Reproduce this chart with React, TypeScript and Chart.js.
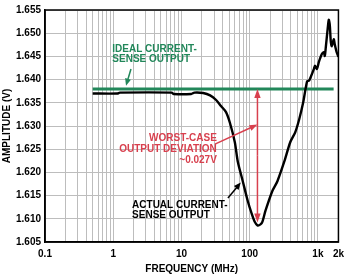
import React, { useEffect, useRef } from "react";
import { Chart, registerables } from "chart.js";

Chart.register(...registerables);

// ---- data ----
const freqMHz = [
  0.5, 1.15, 1.25, 7.2, 7.7, 13.9, 15.5, 20.8, 26.3, 32.2, 38, 45, 51.3, 60.6,
  67, 79.2, 93.5, 107, 118, 130, 144, 154, 171, 215, 255, 321, 393, 464, 531,
  607, 693, 741, 767, 875, 905, 968, 1034, 1143, 1222, 1263, 1306, 1396, 1444,
  1493, 1544, 1597, 1706, 1765, 1884, 2000,
];
const actualV = [
  1.637, 1.637, 1.6372, 1.6372, 1.6369, 1.6369, 1.6372, 1.6371, 1.6366, 1.6356,
  1.6343, 1.633, 1.6307, 1.6265, 1.6223, 1.6181, 1.6139, 1.6111, 1.6094, 1.6086,
  1.6088, 1.6094, 1.6118, 1.616, 1.6181, 1.6223, 1.6265, 1.6286, 1.6314, 1.635,
  1.6396, 1.6398, 1.6402, 1.6423, 1.643, 1.6423, 1.6438, 1.6455, 1.6459, 1.6451,
  1.647, 1.6512, 1.6529, 1.6518, 1.6483, 1.6472, 1.6487, 1.6476, 1.6459, 1.6449,
];
const idealFreq = [0.5, 1700];
const idealV = [1.638, 1.638];

const xTickValues = [
  0.1, 0.2, 0.3, 0.4, 0.5, 0.6, 0.7, 0.8, 0.9, 1, 2, 3, 4, 5, 6, 7, 8, 9, 10,
  20, 30, 40, 50, 60, 70, 80, 90, 100, 200, 300, 400, 500, 600, 700, 800, 900,
  1000, 2000,
];
const xLabelValues = [0.1, 1, 10, 100, 1000, 2000];
const xLabelTexts = ["0.1", "1", "10", "100", "1k", "2k"];

const idealLabel = ["IDEAL CURRENT-", "SENSE OUTPUT"];
const actualLabel = ["ACTUAL CURRENT-", "SENSE OUTPUT"];
const deviationLabel = ["WORST-CASE", "OUTPUT DEVIATION", "~0.027V"];
const worstFreq = 130;
const worstTopV = 1.638;
const worstBottomV = 1.6092;

const GREEN = "#22875a";
const RED = "#d8404e";
const FONT = "Liberation Sans, Arial, Helvetica, sans-serif";

function arrow(ctx: CanvasRenderingContext2D, x1: number, y1: number, x2: number, y2: number, color: string, w: number, headLen = 8, headW = 3.2) {
  const a = Math.atan2(y2 - y1, x2 - x1);
  ctx.save();
  ctx.strokeStyle = color;
  ctx.fillStyle = color;
  ctx.lineWidth = w;
  ctx.beginPath();
  ctx.moveTo(x1, y1);
  ctx.lineTo(x2 - Math.cos(a) * headLen * 0.8, y2 - Math.sin(a) * headLen * 0.8);
  ctx.stroke();
  ctx.beginPath();
  ctx.moveTo(x2, y2);
  ctx.lineTo(x2 - Math.cos(a) * headLen - Math.sin(a) * headW, y2 - Math.sin(a) * headLen + Math.cos(a) * headW);
  ctx.lineTo(x2 - Math.cos(a) * headLen + Math.sin(a) * headW, y2 - Math.sin(a) * headLen - Math.cos(a) * headW);
  ctx.closePath();
  ctx.fill();
  ctx.restore();
}

const annotPlugin = {
  id: "annot",
  afterDatasetsDraw(chart: any) {
    const { ctx, chartArea } = chart;
    const xs = chart.scales.x;
    const ys = chart.scales.y;
    const X = (v: number) => xs.getPixelForValue(v);
    const Y = (v: number) => ys.getPixelForValue(v);
    ctx.save();
    ctx.font = `bold 10px ${FONT}`;
    ctx.textBaseline = "middle";

    // green label
    ctx.fillStyle = GREEN;
    ctx.textAlign = "left";
    idealLabel.forEach((t, i) => ctx.fillText(t, X(0.97), Y(1.6466) + i * 10));
    arrow(ctx, X(1.82), Y(1.6423), X(1.54), Y(1.6387), GREEN, 1.5, 7, 3);

    // black label
    ctx.fillStyle = "#000";
    actualLabel.forEach((t, i) => ctx.fillText(t, X(1.89), Y(1.613) + i * 10.5));
    arrow(ctx, X(48), Y(1.6145), X(74), Y(1.6178), "#000", 1.5, 7, 3);

    // red label
    ctx.fillStyle = RED;
    ctx.textAlign = "right";
    deviationLabel.forEach((t, i) => ctx.fillText(t, X(33), Y(1.6274) + i * 11));
    arrow(ctx, X(31), Y(1.6261), X(worstFreq), Y(1.6303), RED, 1.5, 8, 3);

    // vertical double arrow
    const xm = X(worstFreq);
    const yt = Y(worstTopV);
    const yb = Y(worstBottomV);
    const ymid = (yt + yb) / 2;
    arrow(ctx, xm, ymid, xm, yt, RED, 1.5, 9, 3.2);
    arrow(ctx, xm, ymid, xm, yb, RED, 1.5, 9, 3.2);

    // frame
    ctx.strokeStyle = "#000";
    ctx.lineWidth = 1.5;
    ctx.strokeRect(chartArea.left, chartArea.top, chartArea.right - chartArea.left, chartArea.bottom - chartArea.top);
    ctx.restore();
  },
};

export default function App() {
  const ref = useRef<HTMLCanvasElement | null>(null);
  useEffect(() => {
    if (!ref.current) return;
    const chart = new Chart(ref.current, {
      type: "line",
      data: {
        datasets: [
          {
            label: "Actual",
            data: freqMHz.map((f, i) => ({ x: f, y: actualV[i] })),
            borderColor: "#000",
            borderWidth: 2.4,
            pointRadius: 0,
            tension: 0.25,
            fill: false,
            order: 1,
          },
          {
            label: "Ideal",
            data: idealFreq.map((f, i) => ({ x: f, y: idealV[i] })),
            borderColor: GREEN,
            borderWidth: 3,
            pointRadius: 0,
            tension: 0,
            fill: false,
            order: 2,
          },
        ],
      },
      options: {
        responsive: false,
        animation: false,
        events: [],
        layout: { padding: { top: 5, right: 8, left: 0, bottom: 0 } },
        plugins: { legend: { display: false }, tooltip: { enabled: false } },
        scales: {
          x: {
            type: "logarithmic",
            min: 0.1,
            max: 2000,
            afterBuildTicks: (scale: any) => {
              scale.ticks = xTickValues.map((v) => ({ value: v }));
            },
            afterFit: (scale: any) => {
              scale.height = 33;
            },
            ticks: {
              autoSkip: false,
              maxRotation: 0,
              padding: 6,
              color: "#000",
              font: { family: FONT, size: 10, weight: "bold" },
              callback: (value: any) => {
                const idx = xLabelValues.findIndex((v) => Math.abs(v - Number(value)) < 1e-9 * Math.max(1, v));
                return idx >= 0 ? xLabelTexts[idx] : "";
              },
            },
            grid: { color: "#bdbdbd", lineWidth: 1, drawTicks: false },
            border: { color: "#000", width: 1.5 },
            title: {
              display: true,
              text: "FREQUENCY (MHz)",
              color: "#000",
              font: { family: FONT, size: 10, weight: "bold" },
              padding: { top: 1, bottom: 0 },
            },
          },
          y: {
            type: "linear",
            min: 1.605,
            max: 1.655,
            afterFit: (scale: any) => {
              scale.width = 45;
            },
            ticks: {
              stepSize: 0.005,
              padding: 4,
              color: "#000",
              font: { family: FONT, size: 10, weight: "bold" },
              callback: (value: any) => Number(value).toFixed(3),
            },
            grid: { color: "#bdbdbd", lineWidth: 1, drawTicks: false },
            border: { color: "#000", width: 1.5 },
            title: {
              display: true,
              text: "AMPLITUDE (V)",
              color: "#000",
              font: { family: FONT, size: 10, weight: "bold" },
              padding: { top: 1, bottom: 0 },
            },
          },
        },
      },
      plugins: [annotPlugin],
    } as any);
    return () => chart.destroy();
  }, []);
  return (
    <div style={{ position: "fixed", left: 0, top: 0, width: 350, height: 275, background: "#fff" }}>
      <canvas ref={ref} width={350} height={275} style={{ display: "block", width: 350, height: 275 }} />
    </div>
  );
}
